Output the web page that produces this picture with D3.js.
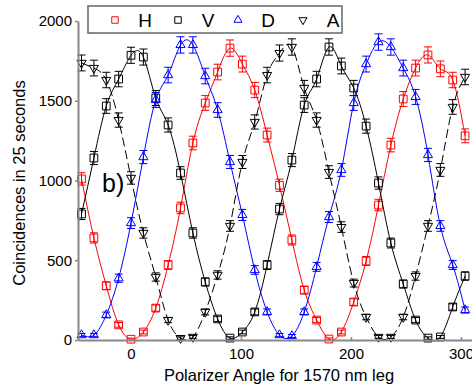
<!DOCTYPE html>
<html>
<head>
<meta charset="utf-8">
<script src="https://cdn.jsdelivr.net/npm/d3@7"></script>
<style>
  body { margin: 0; background: #fff; }
  svg { font-family: "Liberation Sans", Arial, sans-serif; }
</style>
</head>
<body>
<div id="chart"></div>
<script>
// polarizer angles, 11.25 degree steps
var angles = [-45, -33.75, -22.5, -11.25, 0, 11.25, 22.5, 33.75, 45, 56.25, 67.5, 78.75,
  90, 101.25, 112.5, 123.75, 135, 146.25, 157.5, 168.75, 180, 191.25, 202.5, 213.75,
  225, 236.25, 247.5, 258.75, 270, 281.25, 292.5, 303.75];

var hCounts = [1010, 640, 340, 95, 5, 50, 200, 470, 828, 1235, 1486, 1680,
  1830, 1730, 1567, 1285, 970, 627, 313, 125, 6, 50, 238, 495,
  846, 1222, 1511, 1705, 1787, 1700, 1630, 1280];
var vCounts = [790, 1141, 1467, 1636, 1785, 1774, 1517, 1348, 1047, 671, 364, 132,
  12, 50, 176, 470, 821, 1128, 1473, 1636, 1837, 1718, 1580, 1341,
  984, 608, 351, 125, 12, 19, 207, 401];
var dCounts = [31, 31, 157, 387, 733, 1147, 1505, 1661, 1850, 1850, 1655, 1442,
  1116, 784, 439, 176, 31, 25, 176, 458, 771, 1066, 1486, 1730,
  1868, 1837, 1705, 1524, 1160, 715, 470, 188];
var aCounts = [1737, 1705, 1630, 1379, 1016, 671, 395, 125, 12, 19, 176, 408,
  715, 1116, 1367, 1661, 1799, 1837, 1580, 1379, 1053, 708, 357, 144,
  19, 19, 144, 401, 715, 1066, 1461, 1649];

var seriesNames = ["H", "V", "D", "A"];
var xTicks = [0, 100, 200, 300];
var yTicks = [0, 500, 1000, 1500, 2000];

var series = [
  {name: "H", values: hCounts, color: "#ff0000", shape: "square", dash: null},
  {name: "V", values: vCounts, color: "#000000", shape: "square", dash: null},
  {name: "D", values: dCounts, color: "#0000ff", shape: "up", dash: null},
  {name: "A", values: aCounts, color: "#000000", shape: "down", dash: "9,4"}
];

var width = 472, height = 385;
var svg = d3.select("#chart").append("svg")
  .attr("width", width)
  .attr("height", height);

var x = d3.scaleLinear().domain([-48.2, 317.3]).range([78, 480]);
var y = d3.scaleLinear().domain([0, 2000]).range([340, 21]);

var line = d3.line()
  .curve(d3.curveNatural)
  .x(function(d) { return x(d[0]); })
  .y(function(d) { return y(d[1]); });

function symbolPath(shape) {
  if (shape == "square") return d3.symbol().type(d3.symbolSquare).size(60)();
  return d3.symbol().type(d3.symbolTriangle).size(36)();
}

var plot = svg.append("g");

series.forEach(function(s) {
  var pts = angles.map(function(a, i) { return [a, s.values[i]]; });

  plot.append("path")
    .datum(pts)
    .attr("fill", "none")
    .attr("stroke", s.color)
    .attr("stroke-width", 1)
    .attr("stroke-dasharray", s.dash)
    .attr("d", line);

  var g = plot.append("g");
  var pt = g.selectAll("g").data(pts).enter().append("g")
    .attr("transform", function(d) { return "translate(" + x(d[0]) + "," + y(d[1]) + ")"; });

  // error bars (counting error)
  pt.append("path")
    .attr("fill", "none")
    .attr("stroke", s.color)
    .attr("stroke-width", 1)
    .attr("d", function(d) {
      var e = y(0) - y(Math.sqrt(d[1]) * 1.1 + 4);
      return "M0," + (-e) + "V" + e + "M-4," + (-e) + "H4M-4," + e + "H4";
    });

  pt.append("path")
    .attr("fill", "none")
    .attr("stroke", s.color)
    .attr("stroke-width", 1)
    .attr("transform", s.shape == "down" ? "rotate(180)" : null)
    .attr("d", symbolPath(s.shape));
});

// axes
var axisColor = "#888";
var yAxis = svg.append("g")
  .attr("transform", "translate(78,0)")
  .call(d3.axisLeft(y).tickValues(yTicks).tickFormat(d3.format("d")).tickSize(3).tickSizeOuter(0).tickPadding(3));
var xAxis = svg.append("g")
  .attr("transform", "translate(0,340)")
  .call(d3.axisBottom(x).tickValues(xTicks).tickFormat(d3.format("d")).tickSize(-3).tickSizeOuter(0).tickPadding(8));

[yAxis, xAxis].forEach(function(ax) {
  ax.select(".domain").attr("stroke", axisColor).attr("stroke-width", 2);
  ax.selectAll(".tick line").attr("stroke", axisColor).attr("stroke-width", 1.5);
  ax.selectAll(".tick text")
    .attr("fill", "#000")
    .style("font-size", "15px")
    .style("font-family", "Liberation Sans, Arial, sans-serif");
});

// axis titles
svg.append("text")
  .attr("transform", "translate(25,183) rotate(-90)")
  .style("text-anchor", "middle")
  .style("font-size", "16.5px")
  .text("Coincidences in 25 seconds");

svg.append("text")
  .attr("x", 279)
  .attr("y", 381)
  .style("text-anchor", "middle")
  .style("font-size", "16.5px")
  .text("Polarizer Angle for 1570 nm leg");

svg.append("text")
  .attr("x", 102)
  .attr("y", 192)
  .style("font-size", "25px")
  .text("b)");

// legend
var legend = svg.append("g");
legend.append("rect")
  .attr("x", 88).attr("y", 6)
  .attr("width", 254).attr("height", 27)
  .attr("fill", "#fff")
  .attr("stroke", "#666")
  .attr("stroke-width", 1.5);

var legendMarkX = [115, 178, 238, 303];
series.forEach(function(s, i) {
  legend.append("path")
    .attr("transform", "translate(" + legendMarkX[i] + ",20)" + (s.shape == "down" ? " rotate(180)" : ""))
    .attr("fill", "none")
    .attr("stroke", s.color)
    .attr("stroke-width", 1)
    .attr("d", s.shape == "square" ? d3.symbol().type(d3.symbolSquare).size(42)() : d3.symbol().type(d3.symbolTriangle).size(28)());
  legend.append("text")
    .attr("x", legendMarkX[i] + 30)
    .attr("y", 27)
    .style("text-anchor", "middle")
    .style("font-size", "19px")
    .text(seriesNames[i]);
});
</script>
</body>
</html>
